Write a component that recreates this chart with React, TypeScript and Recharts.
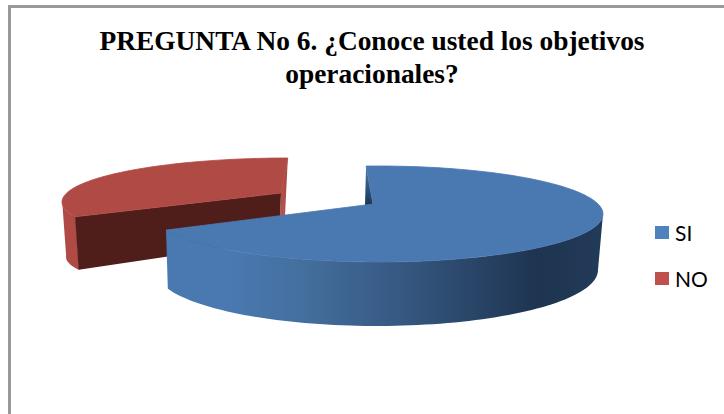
import React from 'react';
import { PieChart, Pie, Legend } from 'recharts';

// Survey answers, in percent of respondents
const categories = ['SI', 'NO'];
const shares = [70.4, 29.6];
const legendColors = ['#4f81bd', '#c0504d'];
const titleLines = ['PREGUNTA No 6. ¿Conoce usted los objetivos', 'operacionales?'];

// NO is listed first so that the SI wedge is painted over it
const rows = categories
  .map((name, i) => ({ name, value: shares[i], fill: legendColors[i] }))
  .reverse();

type Ellipse = { cx: number; cy: number; a: number; b: number };
type Solid = {
  top: Ellipse;
  bottom: Ellipse;
  apex: [number, number];
  apexBottom: [number, number];
  sweepExtra: number;
  sideFrom: number;
  sideTo: number;
  topFill: string;
  sideFill: string;
  startFill: string;
  endFill?: string;
};

// Projection of each wedge of the tilted, exploded pie
const solids: Record<string, Solid> = {
  SI: {
    top: { cx: 378, cy: 214, a: 225, b: 48 },
    bottom: { cx: 376.5, cy: 270, a: 221.5, b: 56 },
    apex: [373, 204],
    apexBottom: [373, 260],
    sweepExtra: 0,
    sideFrom: 90,
    sideTo: 250.4,
    topFill: '#4a79b2',
    sideFill: 'url(#siSide)',
    startFill: 'url(#siNotch)',
  },
  NO: {
    top: { cx: 288, cy: 202, a: 226, b: 44 },
    bottom: { cx: 285, cy: 257, a: 219, b: 38 },
    apex: [281, 193],
    apexBottom: [279, 240],
    sweepExtra: 3,
    sideFrom: 250,
    sideTo: 272,
    topFill: '#b04a45',
    sideFill: '#b04a45',
    startFill: '#4f1e1b',
    endFill: 'url(#noCut)',
  },
};

const rimPoint = (e: Ellipse, t: number): [number, number] => {
  const r = (t * Math.PI) / 180;
  return [e.cx + e.a * Math.sin(r), e.cy - e.b * Math.cos(r)];
};

const rimArc = (e: Ellipse, from: number, to: number) => {
  const steps = Math.max(2, Math.ceil(Math.abs(to - from) / 2));
  return Array.from({ length: steps + 1 }, (_, i) => rimPoint(e, from + ((to - from) * i) / steps));
};

const toPoints = (pts: [number, number][]) => pts.map((p) => p.join(',')).join(' ');

// Draws one wedge as an extruded solid, using the angles computed by the Pie
const WedgeSolid = (props: any) => {
  const name = props.name ?? props.payload?.name;
  const s = solids[name];
  const t0 = 90 - props.startAngle;
  const t1 = 90 - props.endAngle + s.sweepExtra;
  const topFrom = rimPoint(s.top, t0);
  const topTo = rimPoint(s.top, t1);
  const lowFrom = rimPoint(s.bottom, t0);
  const lowTo = rimPoint(s.bottom, t1);
  return (
    <g>
      <defs>
        <linearGradient id="siSide" gradientUnits="userSpaceOnUse" x1="166" y1="0" x2="603" y2="0">
          <stop offset="0" stopColor="#4a79b2" />
          <stop offset="0.14" stopColor="#4a79b2" />
          <stop offset="0.3" stopColor="#44709f" />
          <stop offset="0.52" stopColor="#375a84" />
          <stop offset="0.85" stopColor="#1e3450" />
          <stop offset="1" stopColor="#223b59" />
        </linearGradient>
        <linearGradient id="siNotch" gradientUnits="userSpaceOnUse" x1="0" y1="166" x2="0" y2="205">
          <stop offset="0" stopColor="#4a79b2" />
          <stop offset="1" stopColor="#1b3654" />
        </linearGradient>
        <linearGradient id="noCut" gradientUnits="userSpaceOnUse" x1="0" y1="158" x2="0" y2="217">
          <stop offset="0" stopColor="#a64641" />
          <stop offset="1" stopColor="#b8524d" />
        </linearGradient>
      </defs>
      <polygon
        points={toPoints([...rimArc(s.top, s.sideFrom, s.sideTo), ...rimArc(s.bottom, s.sideTo, s.sideFrom)])}
        fill={s.sideFill}
      />
      {s.endFill && (
        <polygon points={toPoints([topTo, s.apex, s.apexBottom, lowTo])} fill={s.endFill} />
      )}
      <polygon points={toPoints([topFrom, s.apex, s.apexBottom, lowFrom])} fill={s.startFill} />
      <polygon
        points={toPoints([s.apex, ...rimArc(s.top, t0, t1)])}
        fill={s.topFill}
        stroke={s.topFill}
        strokeWidth={0.8}
        strokeLinejoin="round"
      />
    </g>
  );
};

const LegendList = ({ payload }: any) => {
  const items = [...(payload ?? [])].sort(
    (a: any, b: any) => categories.indexOf(a.value) - categories.indexOf(b.value),
  );
  return (
    <div style={{ position: 'absolute', left: 655, top: 220, fontFamily: 'Lato', fontSize: 21, color: '#000' }}>
      {items.map((item: any) => (
        <div key={item.value} style={{ display: 'flex', alignItems: 'center', height: 25, marginBottom: 21 }}>
          <span style={{ width: 13.5, height: 13.5, background: item.color, marginRight: 6.5, display: 'block' }} />
          <span>{item.value}</span>
        </div>
      ))}
    </div>
  );
};

export default function App() {
  return (
    <div style={{ position: 'absolute', left: 0, top: 0, width: 724, height: 414, background: '#fff', overflow: 'hidden' }}>
      <div style={{ position: 'absolute', left: 8, top: 5, right: 0, height: 2.5, background: '#999' }} />
      <div style={{ position: 'absolute', left: 8, top: 5, bottom: 0, width: 2.5, background: '#999' }} />
      <div
        style={{
          position: 'absolute',
          left: 0,
          width: 744,
          top: 25,
          textAlign: 'center',
          fontFamily: 'Liberation Serif',
          fontWeight: 'bold',
          fontSize: 27.4,
          lineHeight: '33px',
          color: '#000',
        }}
      >
        {titleLines.map((line) => (
          <div key={line}>{line}</div>
        ))}
      </div>
      <PieChart width={724} height={414} style={{ position: 'absolute', left: 0, top: 0 }}>
        <Pie
          data={rows}
          dataKey="value"
          nameKey="name"
          cx={378}
          cy={214}
          outerRadius={225}
          startAngle={-160.4}
          endAngle={-520.4}
          stroke="none"
          isAnimationActive={false}
          shape={WedgeSolid}
        />
        <Legend content={<LegendList />} wrapperStyle={{ position: 'absolute', left: 0, top: 0, width: 0, height: 0 }} />
      </PieChart>
    </div>
  );
}
